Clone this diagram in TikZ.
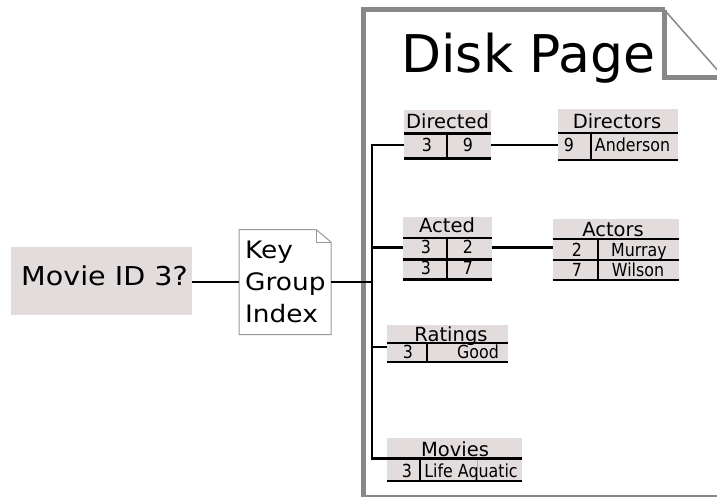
\documentclass[tikz,border=0pt]{standalone}
\usepackage{fontspec}
\setmainfont{DejaVu Sans}
\newfontfamily\narrowfont[FakeStretch=0.88]{DejaVu Sans}
\newfontfamily\widefont[FakeStretch=1.1]{DejaVu Sans}
\usepackage{xcolor}
\definecolor{tgray}{HTML}{E3DCDC}
\definecolor{pgray}{HTML}{888888}
\definecolor{dgray}{HTML}{9A9A9A}
\tikzstyle{tbl}=[rectangle, fill=tgray, inner sep=0pt]
\tikzstyle{thead}=[anchor=base, inner sep=0pt, font=\fontsize{19.5}{22}\selectfont]
\tikzstyle{tcell}=[anchor=base, inner sep=0pt, font=\narrowfont\fontsize{18}{20}\selectfont]
\tikzstyle{kline}=[anchor=base west, inner sep=0pt, font=\widefont\fontsize{24}{32}\selectfont]
\tikzstyle{hrule}=[line width=2.8pt]
\tikzstyle{divider}=[line width=2.2pt]
\tikzstyle{conn}=[line width=2.6pt]
\tikzstyle{pagel}=[draw=pgray, line width=5pt]
\tikzstyle{docl}=[draw=dgray, line width=1pt]

\begin{document}
\begin{tikzpicture}[x=1pt, y=-1pt]
    \useasboundingbox (0,0) rectangle (717,497);

    % disk page
    \fill[white] (363.5,497.5) -- (363.5,10) -- (664.5,10) -- (724,77.5) -- (724,497.5) -- cycle;
    \draw[pagel] (363.5,497.5) -- (363.5,10) -- (664.5,10);
    \draw[pagel] (363.5,497.5) -- (724,497.5);
    \draw[draw=pgray, line width=1.5pt] (664.5,10) -- (724,77.5);
    \draw[pagel] (664.5,10) -- (664.5,77.5) -- (724,77.5);
    \node[anchor=base, inner sep=0pt, font=\fontsize{52}{60}\selectfont] (pagetitle) at (528.5,73) {Disk Page};

    % query and index
    \node[tbl, minimum width=181pt, minimum height=68pt] (query) at (101.5,281) {};
    \node[anchor=base, inner sep=0pt, font=\widefont\fontsize{26}{32}\selectfont] (querytext) at (104.5,285.5) {Movie ID 3?};

    \node[minimum width=92pt, minimum height=105pt, inner sep=0pt] (kgi) at (285,282) {};
    \draw[docl, fill=white] (239,229.5) -- (316,229.5) -- (331,242) -- (331,334.5) -- (239,334.5) -- cycle;
    \draw[docl] (316,229.5) |- (331,242);
    \node[kline] (kgi1) at (245,258) {Key};
    \node[kline] (kgi2) at (245,290) {Group};
    \node[kline] (kgi3) at (245,322) {Index};

    % Directed
    \node[tbl, minimum width=87pt, minimum height=49pt] (directed) at (447.5,134.5) {};
    \node[thead] (directedh) at (447.5,128.5) {Directed};
    \draw[hrule] (404,133.5) -- (491,133.5);
    \draw[hrule] (404,158.5) -- (491,158.5);
    \draw[divider] (447,133.5) -- (447,158.5);
    \node[tcell] (directed3) at (427,152) {3};
    \node[tcell] (directed9) at (468,152) {9};

    % Directors
    \node[tbl, minimum width=120pt, minimum height=52pt] (directors) at (618,135) {};
    \node[thead] (directorsh) at (617,129) {Directors};
    \draw[hrule] (558,133) -- (678,133);
    \draw[hrule] (558,160) -- (678,160);
    \draw[divider] (591,133) -- (591,160);
    \node[tcell] (directors9) at (569,152) {9};
    \node[tcell] (directorsname) at (632.5,152) {Anderson};

    % Acted
    \node[tbl, minimum width=89pt, minimum height=63pt] (acted) at (447.5,248.5) {};
    \node[thead] (actedh) at (447,233) {Acted};
    \draw[hrule] (403,238) -- (492,238);
    \draw[hrule] (403,259.5) -- (492,259.5);
    \draw[hrule] (403,279.5) -- (492,279.5);
    \draw[divider] (447,238) -- (447,279.5);
    \node[tcell] (acted3a) at (426,253) {3};
    \node[tcell] (acted2) at (468,253) {2};
    \node[tcell] (acted3b) at (426,274) {3};
    \node[tcell] (acted7) at (468,274) {7};

    % Actors
    \node[tbl, minimum width=126pt, minimum height=62pt] (actors) at (616,250) {};
    \node[thead] (actorsh) at (613,236) {Actors};
    \draw[hrule] (553,239) -- (679,239);
    \draw[hrule] (553,260) -- (679,260);
    \draw[hrule] (553,280) -- (679,280);
    \draw[divider] (598,239) -- (598,280);
    \node[tcell] (actors2) at (577,256) {2};
    \node[tcell] (actorsname2) at (639,256) {Murray};
    \node[tcell] (actors7) at (577,276) {7};
    \node[tcell] (actorsname7) at (638,276) {Wilson};

    % Ratings
    \node[tbl, minimum width=121pt, minimum height=38pt] (ratings) at (447.5,344) {};
    \node[thead] (ratingsh) at (451,341) {Ratings};
    \draw[hrule] (387,343) -- (508,343);
    \draw[hrule] (387,362) -- (508,362);
    \draw[divider] (427,343) -- (427,362);
    \node[tcell] (ratings3) at (408,358) {3};
    \node[tcell, anchor=base east] (ratingsval) at (499,358) {Good};

    % Movies
    \node[tbl, minimum width=135pt, minimum height=44pt] (movies) at (454.5,460) {};
    \draw[draw=gray!60, line width=0.6pt] (477,458.5) -- (477,481);
    \node[thead] (moviesh) at (455,456) {Movies};
    \draw[hrule] (387,458.5) -- (522,458.5);
    \draw[hrule] (387,481) -- (522,481);
    \draw[divider] (420,458.5) -- (420,481);
    \node[tcell] (movies3) at (407,477) {3};
    \node[tcell] (moviesname) at (471,477) {Life Aquatic};

    % connectors
    \coordinate (bus1) at (372,145);
    \coordinate (bus2) at (372,247.5);
    \coordinate (busk) at (372,282);
    \coordinate (bus3) at (372,347);
    \coordinate (bus4) at (372,458.5);
    \draw[conn] (query.east |- busk) -- (kgi.west |- busk);
    \draw[conn] (kgi.east |- busk) -- (busk);
    \draw[conn] (directed.west |- bus1) -- (bus1) -- (bus4) -- (movies.west |- bus4);
    \draw[conn] (bus2) -- (acted.west |- bus2);
    \draw[conn] (bus3) -- (ratings.west |- bus3);
    \draw[conn] (directed.east |- bus1) -- (directors.west |- bus1);
    \draw[conn] (acted.east |- bus2) -- (actors.west |- bus2);
\end{tikzpicture}
\end{document}
